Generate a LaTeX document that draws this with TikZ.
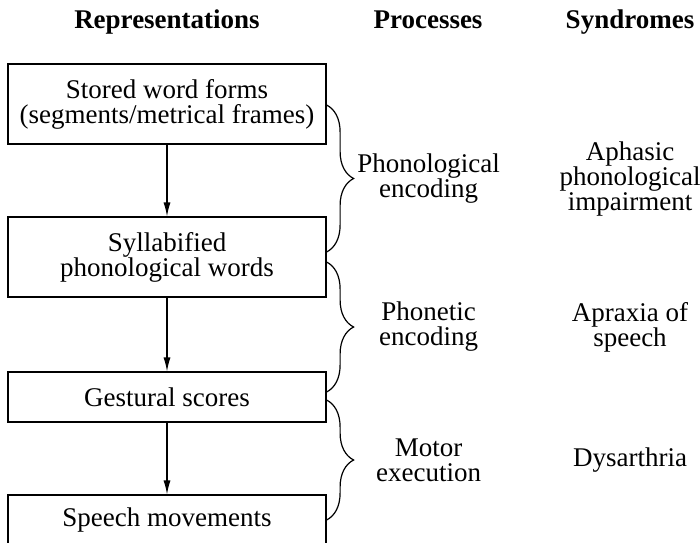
\documentclass[tikz,border=0pt]{standalone}
\usepackage{fontspec}
\setmainfont{Liberation Serif}
\usetikzlibrary{arrows.meta,decorations.pathreplacing}

\newcommand{\diagfont}{\fontsize{13.5}{12.5}\selectfont}

\tikzset{
	repbox/.style={draw, line width=0.6pt, minimum width=159pt, align=center, inner sep=0pt},
	head/.style={font=\diagfont\bfseries, anchor=base},
	txt/.style={align=center},
	flow/.style={line width=0.6pt, -{Latex[length=7pt, width=3.5pt]}},
	bracket/.style={decorate, decoration={brace, amplitude=13.5pt}, line width=0.6pt},
}

\begin{document}
\begin{tikzpicture}[x=0.5pt, y=-0.5pt, font=\diagfont]
	\useasboundingbox (0,0) rectangle (700,542);

	% column headings
	\node[head] (hrep) at (167,28) {Representations};
	\node[head] (hproc) at (428,28) {Processes};
	\node[head] (hsyn) at (630,28) {Syndromes};

	% representation boxes
	\node[repbox, minimum height=40pt] (forms) at (167,104) {Stored word forms\\(segments/metrical frames)};
	\node[repbox, minimum height=40pt] (words) at (167,257) {Syllabified\\phonological words};
	\node[repbox, minimum height=25pt] (scores) at (167,397) {Gestural scores};
	\node[repbox, minimum height=25pt] (moves) at (167,520) {Speech movements};

	\draw[flow] (forms) -- (words);
	\draw[flow] (words) -- (scores);
	\draw[flow] (scores) -- (moves);

	% processes between the levels
	\draw[bracket] ([yshift=-0.5pt]forms.east) -- ([yshift=2.5pt]words.east)
		node[txt, midway, xshift=51pt] (phon) {Phonological\\encoding};
	\draw[bracket] ([yshift=-2.5pt]words.east) -- ([yshift=2.5pt]scores.east)
		node[txt, midway, xshift=51pt] (phonet) {Phonetic\\encoding};
	\draw[bracket] ([yshift=-1.5pt]scores.east) -- ([yshift=0pt]moves.east)
		node[txt, midway, xshift=51pt] (motor) {Motor\\execution};

	% syndromes
	\node[txt] (aphasia) at (phon -| hsyn) {Aphasic\\phonological\\impairment};
	\node[txt] (apraxia) at (phonet -| hsyn) {Apraxia of\\speech};
	\node[txt] (dys) at (motor -| hsyn) {Dysarthria};
\end{tikzpicture}
\end{document}
